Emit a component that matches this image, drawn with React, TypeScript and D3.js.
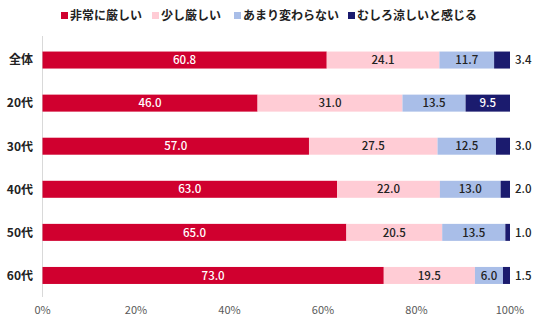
import React from "react";
import * as d3 from "d3";

const categories = ["全体", "20代", "30代", "40代", "50代", "60代"];
const seriesNames = ["非常に厳しい", "少し厳しい", "あまり変わらない", "むしろ涼しいと感じる"];
const verySevere = [60.8, 46.0, 57.0, 63.0, 65.0, 73.0];
const slightlySevere = [24.1, 31.0, 27.5, 22.0, 20.5, 19.5];
const noChange = [11.7, 13.5, 12.5, 13.0, 13.5, 6.0];
const cooler = [3.4, 9.5, 3.0, 2.0, 1.0, 1.5];
const xTicks = [0, 20, 40, 60, 80, 100];

const colors = ["#D0002F", "#FFCCD5", "#A9BEE8", "#1B1B6E"];
const textColors = ["#FFFFFF", "#222222", "#222222", "#FFFFFF"];
const FONT = "'Noto Sans CJK JP', 'Noto Sans', sans-serif";

export default function App() {
  const width = 536;
  const height = 324;
  const x = d3.scaleLinear().domain([0, 100]).range([42.5, 510]);
  const y = d3.scaleBand<string>().domain(categories).range([38.5, 297]).paddingInner(0.6).paddingOuter(0.3);
  const series = [verySevere, slightlySevere, noChange, cooler];
  const legendX = [61, 152, 234, 348];

  return (
    <svg width={width} height={height} style={{ position: "absolute", left: 0, top: 0 }} fontFamily={FONT}>
      <rect width={width} height={height} fill="#fff" />
      {seriesNames.map((name, i) => (
        <g key={name} transform={`translate(${legendX[i]},16)`}>
          <rect x={0} y={-4} width={7} height={7} fill={colors[i]} />
          <text x={9} y={0} dy="0.36em" fontSize={12} fontWeight={700} fill="#222">{name}</text>
        </g>
      ))}
      <line x1={x(0)} x2={x(0)} y1={36} y2={297} stroke="#D9D9D9" strokeWidth={1} />
      {categories.map((cat, ci) => {
        const yc = (y(cat) as number) + y.bandwidth() / 2;
        const bh = 17;
        let acc = 0;
        return (
          <g key={cat}>
            <text x={33} y={yc} dy="0.36em" textAnchor="end" fontSize={12} fontWeight={700} fill="#222">{cat}</text>
            {series.map((s, si) => {
              const v = s[ci];
              const x0 = x(acc);
              acc += v;
              const x1 = x(acc);
              const w = x1 - x0;
              const inside = w > 20;
              return (
                <g key={si}>
                  <rect x={x0} y={yc - bh / 2} width={w} height={bh} fill={colors[si]} />
                  <text
                    x={inside ? (x0 + x1) / 2 : x1 + 5}
                    y={yc}
                    dy="0.36em"
                    textAnchor={inside ? "middle" : "start"}
                    fontSize={11.5}
                    fontWeight={500}
                    fill={inside ? textColors[si] : "#222"}
                  >
                    {v.toFixed(1)}
                  </text>
                </g>
              );
            })}
          </g>
        );
      })}
      {xTicks.map((t) => (
        <text key={t} x={x(t)} y={310} dy="0.36em" textAnchor="middle" fontSize={11} fill="#595959">{t}%</text>
      ))}
    </svg>
  );
}
